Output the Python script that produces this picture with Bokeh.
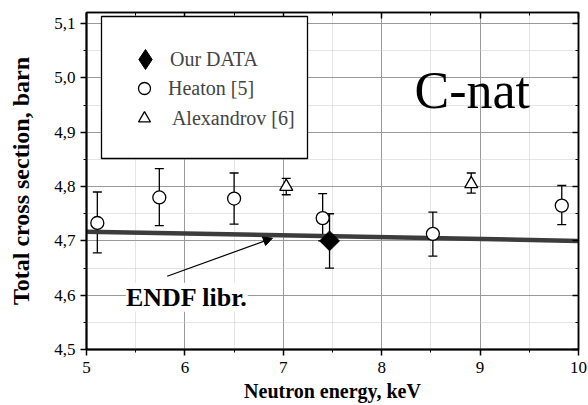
from bokeh.plotting import figure
from bokeh.models import (Range1d, LinearAxis, Whisker, TeeHead, ColumnDataSource, Label,
                          Arrow, NormalHead, Legend, LegendItem, BoxAnnotation, FixedTicker)
from bokeh.embed import file_html
from bokeh.resources import INLINE
import math

# ---------------- data ----------------
heaton_x = [5.11, 5.74, 6.50, 7.40, 8.52, 9.83]
heaton_y = [4.733, 4.780, 4.778, 4.742, 4.713, 4.765]
heaton_lo = [4.678, 4.728, 4.731, 4.700, 4.672, 4.730]
heaton_hi = [4.790, 4.833, 4.825, 4.787, 4.753, 4.802]

alex_x = [7.03, 8.91]
alex_y = [4.800, 4.805]
alex_lo = [4.785, 4.788]
alex_hi = [4.815, 4.825]

our_x = [7.47]
our_y = [4.700]
our_lo = [4.650]
our_hi = [4.750]

endf_x = [5.0, 10.0]
endf_y = [4.717, 4.700]

x_ticks = [5, 6, 7, 8, 9, 10]
x_minor = [5.5, 6.5, 7.5, 8.5, 9.5]
x_tick_labels = ["5", "6", "7", "8", "9", "10"]
y_ticks = [4.5, 4.6, 4.7, 4.8, 4.9, 5.0, 5.1]
y_minor = [4.55, 4.65, 4.75, 4.85, 4.95, 5.05]
y_tick_labels = ["4,5", "4,6", "4,7", "4,8", "4,9", "5,0", "5,1"]

FONT = "Liberation Serif"

p = figure(width=588, height=405, output_backend="svg", toolbar_location=None,
           x_range=Range1d(5, 10), y_range=Range1d(4.5, 5.1206),
           min_border_left=86, min_border_right=10, min_border_top=12, min_border_bottom=56)
p.background_fill_color = "white"
p.border_fill_color = "white"
p.outline_line_color = "black"
p.outline_line_width = 1.5

# axes
p.xaxis.ticker = FixedTicker(ticks=x_ticks, minor_ticks=x_minor)
p.yaxis.ticker = FixedTicker(ticks=y_ticks, minor_ticks=y_minor)
p.xaxis.major_label_overrides = {t: l for t, l in zip(x_ticks, x_tick_labels)}
p.yaxis.major_label_overrides = {t: l for t, l in zip(y_ticks, y_tick_labels)}
for ax in (p.xaxis[0], p.yaxis[0]):
    ax.axis_line_width = 2
    ax.axis_line_color = "black"
    ax.major_tick_in = 0
    ax.major_tick_out = 6
    ax.minor_tick_in = 0
    ax.minor_tick_out = 3
    ax.major_tick_line_width = 1.5
    ax.major_label_text_font = FONT
    ax.major_label_text_font_size = "17px"
    ax.major_label_text_color = "black"
    ax.axis_label_text_font = FONT
    ax.axis_label_text_font_style = "bold"
    ax.axis_label_text_color = "black"
p.xaxis.major_label_standoff = 6
p.yaxis.major_label_standoff = 5
p.xaxis.axis_label = "Neutron energy, keV"
p.yaxis.axis_label = "Total cross section, barn"
p.xaxis.axis_label_text_font_size = "20px"
p.yaxis.axis_label_text_font_size = "24px"
p.xaxis.axis_label_standoff = 4
p.yaxis.axis_label_standoff = 17

# mirror axes (ticks only)
top = LinearAxis(ticker=FixedTicker(ticks=x_ticks, minor_ticks=x_minor),
                 major_label_overrides={t: "" for t in x_ticks})
right = LinearAxis(ticker=FixedTicker(ticks=y_ticks, minor_ticks=y_minor),
                   major_label_overrides={t: "" for t in y_ticks})
for ax in (top, right):
    ax.major_label_standoff = 0
    ax.major_tick_in = 6
    ax.major_tick_out = 0
    ax.minor_tick_in = 3
    ax.minor_tick_out = 0
    ax.axis_line_width = 1.5
    ax.major_tick_line_width = 1.5
p.add_layout(top, "above")
p.add_layout(right, "right")

# grid
p.xgrid.grid_line_color = "#9a9a9a"
p.ygrid.grid_line_color = "#9a9a9a"
p.xgrid.grid_line_width = 1
p.ygrid.grid_line_width = 1
p.xgrid.minor_grid_line_color = "#c8c8c8"
p.ygrid.minor_grid_line_color = "#c8c8c8"
p.xgrid.minor_grid_line_dash = "1 1"
p.ygrid.minor_grid_line_dash = "1 1"

# ENDF line
p.line(endf_x, endf_y, line_color="#3c3c3c", line_width=4.5)

# error bars
def whisk(xs, lo, hi):
    src = ColumnDataSource(dict(x=xs, lo=lo, hi=hi))
    w = Whisker(source=src, base="x", lower="lo", upper="hi", dimension="height",
                line_color="black", line_width=1.3,
                upper_head=TeeHead(size=9, line_color="black", line_width=1.3),
                lower_head=TeeHead(size=9, line_color="black", line_width=1.3))
    p.add_layout(w)

whisk(heaton_x, heaton_lo, heaton_hi)
whisk(alex_x, alex_lo, alex_hi)
whisk(our_x, our_lo, our_hi)

r_heaton = p.scatter(heaton_x, heaton_y, marker="circle", size=13, fill_color="white",
                     line_color="black", line_width=1.3)
r_alex = p.scatter(alex_x, alex_y, marker="triangle", size=13, fill_color="white",
                   line_color="black", line_width=1.3)
r_our = p.scatter(our_x, our_y, marker="square", size=14, angle=math.pi / 4,
                  fill_color="black", line_color="black", line_width=1)
r_our_leg = p.scatter(our_x, our_y, marker="diamond", size=20, fill_color="black",
                      line_color="black", visible=False)

# annotations
p.add_layout(Label(x=8.92, y=4.977, text="C-nat", text_font=FONT, text_font_size="52px",
                   text_color="black", text_align="center", text_baseline="alphabetic"))
p.add_layout(Label(x=6.02, y=4.596, text="ENDF libr.", text_font=FONT, text_font_size="26px",
                   text_font_style="bold", text_color="black", text_align="center",
                   text_baseline="alphabetic", background_fill_color="white"))
p.add_layout(Arrow(x_start=5.82, y_start=4.635, x_end=6.89, y_end=4.705, line_width=1.2,
                   line_color="black",
                   end=NormalHead(size=9, fill_color="black", line_color="black")))

# legend frame
p.add_layout(BoxAnnotation(left=15, right=221, top=333, bottom=191,
                           left_units="screen", right_units="screen",
                           top_units="screen", bottom_units="screen",
                           fill_color="white", fill_alpha=1, line_color="black",
                           line_width=1.3, line_alpha=1, level="overlay"))

leg1 = Legend(items=[LegendItem(label="Our DATA", renderers=[r_our_leg])],
              location=(34, 265), glyph_width=50, glyph_height=50,
              label_text_font=FONT, label_text_font_size="20px", label_standoff=-2,
              border_line_alpha=0, background_fill_alpha=0, padding=0, margin=0,
              level="overlay")
leg2 = Legend(items=[LegendItem(label="Heaton [5]", renderers=[r_heaton]),
                     LegendItem(label=" Alexandrov [6]", renderers=[r_alex])],
              location=(42, 216), glyph_width=32, glyph_height=30, spacing=0,
              label_text_font=FONT, label_text_font_size="20px", label_standoff=8,
              border_line_alpha=0, background_fill_alpha=0, padding=0, margin=0,
              level="overlay")
p.add_layout(leg1)
p.add_layout(leg2)

open("out.html", "w").write(file_html(p, INLINE))
